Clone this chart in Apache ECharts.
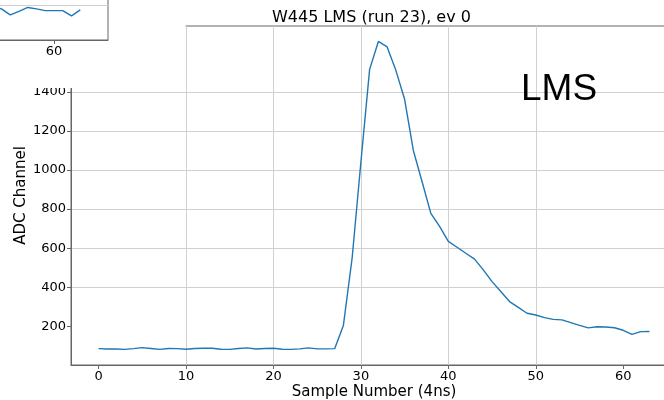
<!DOCTYPE html>
<html><head><meta charset="utf-8">
<script src="https://cdn.jsdelivr.net/npm/echarts@6/dist/echarts.min.js"></script>
<style>html,body{margin:0;padding:0;background:#fff}#c{width:664px;height:400px}</style>
</head><body><div id="c"></div>
<script>
const titleText = 'W445 LMS (run 23), ev 0';
const tagText = 'LMS';
const xName = 'Sample Number (4ns)';
const yName = 'ADC Channel';
const sampleNumbers = [0,1,2,3,4,5,6,7,8,9,10,11,12,13,14,15,16,17,18,19,20,21,22,23,24,25,26,27,28,29,30,31,32,33,34,35,36,37,38,39,40,41,42,43,44,45,46,47,48,49,50,51,52,53,54,55,56,57,58,59,60,61,62,63];
const adcValues = [86,84,84,82,86,91,87,82,87,86,83,87,88,88,83,82,87,90,84,87,88,83,82,85,90,85,85,86,205,550,1040,1515,1658,1630,1510,1362,1100,940,778,712,635,605,574,544,489,429,378,327,297,267,258,245,236,233,219,205,192,198,197,193,180,159,173,174];
const xTicks = [0,10,20,30,40,50,60];
const yTicks = [200,400,600,800,1000,1200,1400,1600];
// fragment of a neighbouring panel, top-left corner
const insetSamples = [53,54,55,56,57,58,59,60,61,62,63];
const insetValues = [95,89,72,82,93,89,84,84,84,69,86];
const insetXTicks = [60];
const insetYTicks = [100];

const FONT = 'DejaVu Sans';
const spine = '#666';
const gridCol = '#d0d0d0';
const plain = v => String(v);
const chart = echarts.init(document.getElementById('c'), null, {renderer:'canvas'});
chart.setOption({
  animation:false,
  backgroundColor:'#fff',
  textStyle:{fontFamily:FONT},
  title:{text:titleText,left:272,top:10,padding:0,textStyle:{fontFamily:FONT,fontSize:16,fontWeight:'normal',color:'#000'}},
  grid:[
    {left:71,top:26,width:606,height:339,show:true,borderColor:spine,borderWidth:1,backgroundColor:'transparent',containLabel:false,outerBoundsMode:'none'},
    {left:-2,top:-30,width:110,height:70,show:true,borderColor:spine,borderWidth:1,backgroundColor:'transparent',z:120,containLabel:false,outerBoundsMode:'none'}
  ],
  xAxis:[
    {type:'value',gridIndex:0,min:-3.15,max:66.15,splitNumber:7,
     name:xName,nameLocation:'middle',nameGap:20,nameMoveOverlap:false,nameTextStyle:{fontFamily:FONT,fontSize:15,color:'#000'},
     axisLine:{show:true,onZero:false,lineStyle:{color:spine}},
     axisTick:{show:true,length:4,customValues:xTicks,lineStyle:{color:spine}},
     axisLabel:{customValues:xTicks,formatter:plain,fontSize:13,color:'#000',margin:5,fontFamily:FONT},
     splitLine:{show:true,showMinLine:false,showMaxLine:false,lineStyle:{color:gridCol}}},
    {type:'value',gridIndex:1,min:53.6,max:66.17,splitNumber:1,z:120,
     axisLine:{show:true,onZero:false,lineStyle:{color:spine}},
     axisTick:{show:true,length:4,customValues:insetXTicks,lineStyle:{color:spine}},
     axisLabel:{customValues:insetXTicks,formatter:plain,fontSize:13,color:'#000',margin:5,fontFamily:FONT},
     splitLine:{show:true,showMinLine:false,showMaxLine:false,lineStyle:{color:gridCol}}}
  ],
  yAxis:[
    {type:'value',gridIndex:0,min:2.3,max:1737,splitNumber:8,
     name:yName,nameLocation:'middle',nameGap:42,nameMoveOverlap:false,nameTextStyle:{fontFamily:FONT,fontSize:15,color:'#000'},
     axisLine:{show:true,onZero:false,lineStyle:{color:spine}},
     axisTick:{show:true,length:4,customValues:yTicks,lineStyle:{color:spine}},
     axisLabel:{customValues:yTicks,formatter:plain,fontSize:13,color:'#000',margin:5,fontFamily:FONT},
     splitLine:{show:true,showMinLine:false,showMaxLine:false,lineStyle:{color:gridCol}}},
    {type:'value',gridIndex:1,min:0,max:200,splitNumber:2,z:120,
     axisLine:{show:false},axisTick:{show:false},axisLabel:{show:false},
     splitLine:{show:true,showMinLine:false,showMaxLine:false,lineStyle:{color:gridCol}}}
  ],
  series:[
    {type:'line',xAxisIndex:0,yAxisIndex:0,showSymbol:false,
     data:sampleNumbers.map((s,i)=>[s,adcValues[i]]),
     lineStyle:{color:'#1f77b4',width:1.4},itemStyle:{color:'#1f77b4'}},
    {type:'line',xAxisIndex:1,yAxisIndex:1,showSymbol:false,z:120,clip:true,
     data:insetSamples.map((s,i)=>[s,insetValues[i]]),
     lineStyle:{color:'#1f77b4',width:1.4},itemStyle:{color:'#1f77b4'}}
  ],
  graphic:[
    {type:'rect',z:100,shape:{x:0,y:0,width:185.5,height:88},style:{fill:'#fff'}},
    {type:'text',z:100,x:521,y:90,style:{text:tagText,font:'37px "Liberation Sans"',fill:'#000',verticalAlign:'middle',textVerticalAlign:'middle'}}
  ]
});
</script></body></html>
